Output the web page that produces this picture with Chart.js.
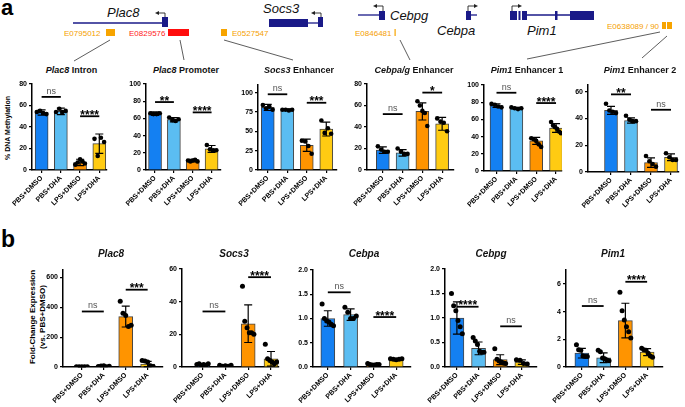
<!DOCTYPE html>
<html>
<head>
<meta charset="utf-8">
<script src="https://cdn.jsdelivr.net/npm/chart.js@4.4.0/dist/chart.umd.min.js"></script>
<style>
  body { margin: 0; background: #fff; width: 685px; height: 407px; position: relative; overflow: hidden; font-family: "Liberation Sans", Arial, sans-serif; }
  .box { position: absolute; }
  .ttl { position: absolute; font-weight: bold; white-space: nowrap; transform: translate(-50%, -50%); color: #111; }
  .ta { font-size: 9px; }
  .tb { font-size: 10px; font-style: italic; }
  .ylab { position: absolute; font-size: 7px; font-weight: bold; white-space: nowrap; text-align: center; line-height: 10px; transform: translate(-50%, -50%) rotate(-90deg); }
  .letter { position: absolute; font-weight: bold; font-family: "Liberation Sans", Arial, sans-serif; }
</style>
</head>
<body>

<div class="letter" style="left:1px;top:-5px;font-size:22px">a</div>
<div class="letter" style="left:1px;top:226px;font-size:23px">b</div>

<svg class="box" style="left:0;top:0" width="685" height="64" font-family="Liberation Sans, Arial, sans-serif">
  <g stroke="#1a1a88" stroke-width="1.3">
    <line x1="73" y1="23" x2="162" y2="23"/>
    <line x1="308" y1="23" x2="318" y2="23"/>
    <line x1="358" y1="15" x2="380" y2="15"/>
    <line x1="471" y1="15" x2="477" y2="15"/>
    <line x1="527" y1="15" x2="570" y2="15"/>
  </g>
  <g fill="#1a1a88">
    <rect x="162" y="17" width="6" height="10"/>
    <rect x="269" y="19" width="39" height="8"/>
    <rect x="318" y="17" width="5" height="10"/>
    <rect x="379" y="11" width="6" height="9"/>
    <rect x="466" y="11" width="5" height="9"/>
    <rect x="510" y="11" width="7" height="9"/>
    <rect x="518.5" y="11" width="2" height="9"/>
    <rect x="522" y="11" width="5" height="9"/>
    <rect x="555" y="11" width="2.5" height="9"/>
    <rect x="570" y="11" width="24" height="9"/>
  </g>
  <g stroke="#222" stroke-width="0.9" fill="none">
    <polyline points="165,17 165,13 158,13"/>
    <polyline points="321,17 321,13 314,13"/>
    <polyline points="383,11 383,6 376,6"/>
    <polyline points="468,11 468,6 475,6"/>
    <polyline points="512,11 512,6 519,6"/>
  </g>
  <g fill="#222">
    <polygon points="155,13 159,11 159,15"/>
    <polygon points="311,13 315,11 315,15"/>
    <polygon points="373,6 377,4 377,8"/>
    <polygon points="478,6 474,4 474,8"/>
    <polygon points="522,6 518,4 518,8"/>
  </g>
  <g font-style="italic" font-size="13" fill="#111">
    <text x="107" y="17">Plac8</text>
    <text x="263" y="13">Socs3</text>
    <text x="390" y="20">Cebpg</text>
    <text x="437" y="35">Cebpa</text>
    <text x="527" y="35">Pim1</text>
  </g>
  <g font-size="8" fill="#f5a000">
    <text x="64" y="35.5">E0795012</text>
    <text x="232" y="35.5">E0527547</text>
    <text x="355" y="35.5">E0846481</text>
    <text x="607" y="28.5">E0638089 / 90</text>
  </g>
  <text x="129" y="35.5" font-size="8" fill="#ff1a1a">E0829576</text>
  <g fill="#f7a400">
    <rect x="106" y="29" width="9" height="7"/>
    <rect x="221" y="29" width="6" height="7"/>
    <rect x="394.5" y="29" width="1.2" height="7"/>
    <rect x="662" y="22" width="4" height="7"/>
    <rect x="667" y="22" width="5" height="7"/>
  </g>
  <rect x="168" y="29" width="21" height="7" fill="#ff0d0d"/>
  <g stroke="#333" stroke-width="0.8">
    <line x1="110" y1="40" x2="74" y2="61"/>
    <line x1="180" y1="40" x2="184" y2="60"/>
    <line x1="224" y1="40" x2="293" y2="60"/>
    <line x1="400" y1="40" x2="410" y2="60"/>
    <line x1="660" y1="32" x2="527" y2="59"/>
    <line x1="667" y1="36" x2="642" y2="58"/>
  </g>
</svg>

<div class="ylab" style="left:8px;top:128px">% DNA Methylation</div>
<div class="ylab" style="left:38px;top:317px;font-size:8px">Fold-Change Expression<br>(vs. PBS+DMSO)</div>

<script>
const groups = ["PBS+DMSO", "PBS+DHA", "LPS+DMSO", "LPS+DHA"];
const barColors = ["#1480f2", "#5bbdf2", "#ff9400", "#ffcb12"];

// panel a - % DNA methylation
const intronMean = [53.5, 54.5, 7, 24.5];
const intronSd = [2.5, 3, 3, 9];
const intronPts = [[54, 55, 53, 52], [54, 57, 54, 55], [5, 7, 10, 8, 6], [29, 13, 30, 26]];
const intronSig = [[0, 1, 68, "ns"], [2, 3, 50, "****"]];

const promoterMean = [65.5, 58.5, 11, 24.5];
const promoterSd = [2, 2.5, 1.5, 4];
const promoterPts = [[66, 65, 65, 66], [61, 58, 57, 59], [11, 10, 11, 12, 10], [29, 24, 23, 23]];
const promoterSig = [[0, 1, 79, "**"], [2, 3, 67, "****"]];

const socs3EnhMean = [81, 78, 32, 53];
const socs3EnhSd = [4, 1, 8, 9];
const socs3EnhPts = [[84, 80, 82, 78], [78, 78, 77, 78], [38, 37, 31, 21], [64, 48, 54, 47]];
const socs3EnhSig = [[0, 1, 98, "ns"], [2, 3, 87, "***"]];

const cebpEnhMean = [18.5, 16, 54.5, 43];
const cebpEnhSd = [3, 3, 8, 6];
const cebpEnhPts = [[22, 19, 17, 17], [20, 17, 15, 15], [64, 60, 55, 53, 41], [48, 45, 44, 36]];
const cebpEnhSig = [[0, 1, 52, "ns"], [2, 3, 72, "*"]];

const pim1Enh1Mean = [76, 73, 35, 50];
const pim1Enh1Sd = [2, 1, 4, 5];
const pim1Enh1Pts = [[78, 77, 75, 74], [74, 73, 72, 73], [38, 37, 35, 31, 28], [57, 53, 51, 49, 46, 44]];
const pim1Enh1Sig = [[0, 1, 91, "ns"], [2, 3, 79, "****"]];

const pim1Enh2Mean = [46, 38.5, 7, 11];
const pim1Enh2Sd = [3, 2, 3.5, 2.5];
const pim1Enh2Pts = [[51, 46, 45, 44], [42, 39, 38, 38], [12, 8, 6, 4], [14, 11, 9, 9]];
const pim1Enh2Sig = [[0, 1, 58, "**"], [2, 3, 46.5, "ns"]];

// panel b - fold-change expression
const plac8Mean = [1, 5, 338, 20];
const plac8Sd = [0.5, 2.5, 70, 18];
const plac8Pts = [[1, 1, 1, 1, 1], [3, 6, 8, 2, 5], [440, 361, 345, 272, 279], [44, 40, 34, 8, 4]];
const plac8Sig = [[0, 1, 372, "ns"], [2, 3, 518, "***"]];

const socs3Mean = [1.2, 0.8, 26.5, 5];
const socs3Sd = [0.4, 0.3, 11.5, 4.5];
const socs3Pts = [[1.5, 2, 1, 1.5, 1, 2], [1, 0.5, 0.8, 0.5, 1], [49.5, 28, 24, 21, 21, 20], [14, 5, 4, 3, 2, 3]];
const socs3Sig = [[0, 1, 34, "ns"], [2, 3, 55, "****"]];

const cebpaMean = [1.0, 1.08, 0.05, 0.16];
const cebpaSd = [0.16, 0.12, 0.015, 0.015];
const cebpaPts = [[1.3, 1.0, 0.95, 0.93, 0.88, 0.85], [1.23, 1.13, 1.0, 1.0, 1.05], [0.07, 0.05, 0.04, 0.04, 0.05, 0.05], [0.17, 0.16, 0.15, 0.16, 0.17]];
const cebpaSig = [[0, 1, 1.54, "ns"], [2, 3, 1.03, "****"]];

const cebpgMean = [1.0, 0.38, 0.15, 0.1];
const cebpgSd = [0.33, 0.13, 0.1, 0.045];
const cebpgPts = [[1.5, 1.25, 1.15, 0.95, 0.82, 0.68], [0.6, 0.53, 0.46, 0.32, 0.3, 0.3], [0.37, 0.16, 0.12, 0.1, 0.08, 0.07], [0.15, 0.14, 0.07, 0.06]];
const cebpgSig = [[0, 1, 1.23, "****"], [2, 3, 0.83, "ns"]];

const pim1Mean = [1.0, 0.67, 3.35, 1.07];
const pim1Sd = [0.35, 0.35, 1.25, 0.25];
const pim1Pts = [[1.6, 1.25, 1.2, 0.8, 0.75, 0.75], [1.2, 1.1, 0.65, 0.6, 0.5, 0.45], [5.4, 4.06, 3.4, 2.9, 2.55, 2.1], [1.35, 1.25, 1.2, 1.0, 0.8, 0.7]];
const pim1Sig = [[0, 1, 4.4, "ns"], [2, 3, 6.15, "****"]];

const FONT = "'Liberation Sans', Arial, sans-serif";
const YW = 34, XH = 52, PAD_TOP = 7, PAD_RIGHT = 3;

// error bars, significance lines
const extrasPlugin = {
  id: "extras",
  afterDatasetDraw(chart, args, opts) {
    if (args.index !== 0) return;
    const { ctx, scales: { x, y } } = chart;
    ctx.save();
    ctx.strokeStyle = "#000";
    ctx.lineWidth = 1.2;
    opts.means.forEach((m, i) => {
      const px = x.getPixelForValue(i);
      const top = y.getPixelForValue(m + opts.sd[i]);
      const bot = y.getPixelForValue(Math.max(m - opts.sd[i], 0));
      ctx.beginPath();
      ctx.moveTo(px, top); ctx.lineTo(px, bot);
      ctx.moveTo(px - 4, top); ctx.lineTo(px + 4, top);
      ctx.moveTo(px - 4, bot); ctx.lineTo(px + 4, bot);
      ctx.stroke();
    });
    ctx.restore();
  },
  afterDraw(chart, args, opts) {
    const { ctx, scales: { x, y } } = chart;
    ctx.save();
    ctx.textAlign = "center";
    ctx.textBaseline = "alphabetic";
    opts.sig.forEach(([a, b, v, label]) => {
      const x1 = x.getPixelForValue(a), x2 = x.getPixelForValue(b);
      const py = y.getPixelForValue(v);
      ctx.strokeStyle = "#000";
      ctx.lineWidth = 1.8;
      ctx.beginPath();
      ctx.moveTo(x1, py); ctx.lineTo(x2, py);
      ctx.stroke();
      if (label === "ns") {
        ctx.fillStyle = "#555";
        ctx.font = "9px " + FONT;
        ctx.fillText(label, (x1 + x2) / 2, py - 3);
      } else {
        ctx.fillStyle = "#000";
        ctx.font = "bold 12px " + FONT;
        ctx.fillText(label, (x1 + x2) / 2, py + 2.5);
      }
    });
    ctx.restore();
  }
};

function dotData(pts) {
  const out = [];
  pts.forEach((list, i) => {
    const n = list.length;
    list.forEach((v, j) => {
      const off = n > 1 ? (j / (n - 1) - 0.5) * 0.5 : 0;
      out.push({ x: i + off, y: v });
    });
  });
  return out;
}

/*
// c.left: x of y axis, c.right: end of x axis, c.top/c.bottom: y of axis max / zero
*/
function makeChart(c) {
  const canvas = document.createElement("canvas");
  const w = YW + (c.right - c.left) + PAD_RIGHT;
  const h = PAD_TOP + (c.bottom - c.top) + XH;
  canvas.width = Math.round(w);
  canvas.height = Math.round(h);
  canvas.className = "box";
  canvas.style.left = (c.left - YW) + "px";
  canvas.style.top = (c.top - PAD_TOP) + "px";
  canvas.style.width = Math.round(w) + "px";
  canvas.style.height = Math.round(h) + "px";
  document.body.appendChild(canvas);

  const tickFont = { size: 7, weight: "bold", family: FONT };
  new Chart(canvas, {
    type: "bar",
    data: {
      datasets: [
        {
          data: c.mean.map((m, i) => ({ x: i, y: m })),
          backgroundColor: barColors,
          borderColor: "#444",
          borderWidth: 1,
          barThickness: c.barW,
          order: 2,
        },
        {
          type: "scatter",
          data: dotData(c.pts),
          pointRadius: c.dot,
          pointBackgroundColor: "#000",
          pointBorderWidth: 0,
          order: 1,
        },
      ],
    },
    plugins: [extrasPlugin],
    options: {
      responsive: false,
      animation: false,
      events: [],
      layout: { padding: { top: PAD_TOP, right: PAD_RIGHT, left: 0, bottom: 0 } },
      plugins: {
        legend: { display: false },
        tooltip: { enabled: false },
        extras: { means: c.mean, sd: c.sd, sig: c.sig },
      },
      scales: {
        x: {
          type: "linear",
          min: c.xmin,
          max: c.xmax,
          offset: false,
          afterBuildTicks: (s) => { s.ticks = groups.map((g, i) => ({ value: i })); },
          afterFit: (s) => { s.height = XH; s.paddingLeft = 0; s.paddingRight = 0; },
          ticks: {
            autoSkip: false, minRotation: 45, maxRotation: 45, padding: 1,
            font: tickFont, color: "#000",
            callback: (v) => groups[v],
          },
          grid: { offset: false, drawOnChartArea: false, tickLength: 3, color: "#000", lineWidth: 1.2 },
          border: { color: "#000", width: 1.5 },
        },
        y: {
          min: 0,
          max: c.ymax,
          afterFit: (s) => { s.width = YW; s.paddingTop = 0; s.paddingBottom = 0; },
          ticks: {
            stepSize: c.step, includeBounds: false, padding: 2,
            font: tickFont, color: "#000",
            callback: (v) => (c.dec ? v.toFixed(1) : v),
          },
          grid: { drawOnChartArea: false, tickLength: 3, color: "#000", lineWidth: 1.2 },
          border: { color: "#000", width: 1.5 },
        },
      },
    },
  });
}

function addTitle(x, y, html, cls) {
  const d = document.createElement("div");
  d.className = "ttl " + cls;
  d.style.left = x + "px";
  d.style.top = y + "px";
  d.innerHTML = html;
  document.body.appendChild(d);
}

const aBase = { barW: 13, dot: 2.3 };
makeChart({ ...aBase, left: 32, right: 108, top: 84, bottom: 170, ymax: 80, step: 20, xmin: -0.5, xmax: 3.4, mean: intronMean, sd: intronSd, pts: intronPts, sig: intronSig });
makeChart({ ...aBase, left: 146, right: 222, top: 84, bottom: 170, ymax: 100, step: 20, xmin: -0.48, xmax: 3.5, mean: promoterMean, sd: promoterSd, pts: promoterPts, sig: promoterSig });
makeChart({ ...aBase, left: 258, right: 338, top: 85, bottom: 170, ymax: 110, step: 25, xmin: -0.5, xmax: 3.55, mean: socs3EnhMean, sd: socs3EnhSd, pts: socs3EnhPts, sig: socs3EnhSig });
makeChart({ ...aBase, left: 367, right: 455, top: 84, bottom: 170, ymax: 80, step: 20, xmin: -0.8, xmax: 3.6, mean: cebpEnhMean, sd: cebpEnhSd, pts: cebpEnhPts, sig: cebpEnhSig });
makeChart({ ...aBase, left: 484, right: 563, top: 85, bottom: 171, ymax: 100, step: 20, xmin: -0.63, xmax: 3.3, mean: pim1Enh1Mean, sd: pim1Enh1Sd, pts: pim1Enh1Pts, sig: pim1Enh1Sig });
makeChart({ ...aBase, left: 588, right: 680, top: 84.5, bottom: 171.5, ymax: 65, step: 20, xmin: -1.15, xmax: 3.4, mean: pim1Enh2Mean, sd: pim1Enh2Sd, pts: pim1Enh2Pts, sig: pim1Enh2Sig });

const bBase = { barW: 14, dot: 2.5, bottom: 366.6 };
makeChart({ ...bBase, left: 63, right: 164, top: 270, ymax: 650, step: 200, xmin: -0.86, xmax: 3.7, mean: plac8Mean, sd: plac8Sd, pts: plac8Pts, sig: plac8Sig });
makeChart({ ...bBase, left: 182, right: 280, top: 269, ymax: 60, step: 20, xmin: -0.9, xmax: 3.35, mean: socs3Mean, sd: socs3Sd, pts: socs3Pts, sig: socs3Sig });
makeChart({ ...bBase, left: 313, right: 412, top: 270, ymax: 2, step: 0.5, dec: true, xmin: -0.65, xmax: 3.65, mean: cebpaMean, sd: cebpaSd, pts: cebpaPts, sig: cebpaSig });
makeChart({ ...bBase, left: 445, right: 538, top: 269, ymax: 2, step: 0.5, dec: true, xmin: -0.55, xmax: 3.7, mean: cebpgMean, sd: cebpgSd, pts: cebpgPts, sig: cebpgSig });
makeChart({ ...bBase, left: 566, right: 664, top: 270, ymax: 7, step: 2, xmin: -0.73, xmax: 3.73, mean: pim1Mean, sd: pim1Sd, pts: pim1Pts, sig: pim1Sig });

addTitle(71.5, 70, "<i>Plac8</i> Intron", "ta");
addTitle(186, 70, "<i>Plac8</i> Promoter", "ta");
addTitle(299, 70, "<i>Socs3</i> Enhancer", "ta");
addTitle(414, 70, "<i>Cebpa/g</i> Enhancer", "ta");
addTitle(527, 70, "<i>Pim1</i> Enhancer 1", "ta");
addTitle(640, 70, "<i>Pim1</i> Enhancer 2", "ta");

addTitle(111, 253, "Plac8", "tb");
addTitle(234, 253, "Socs3", "tb");
addTitle(364, 253, "Cebpa", "tb");
addTitle(491, 253, "Cebpg", "tb");
addTitle(613, 253, "Pim1", "tb");
</script>
</body>
</html>
